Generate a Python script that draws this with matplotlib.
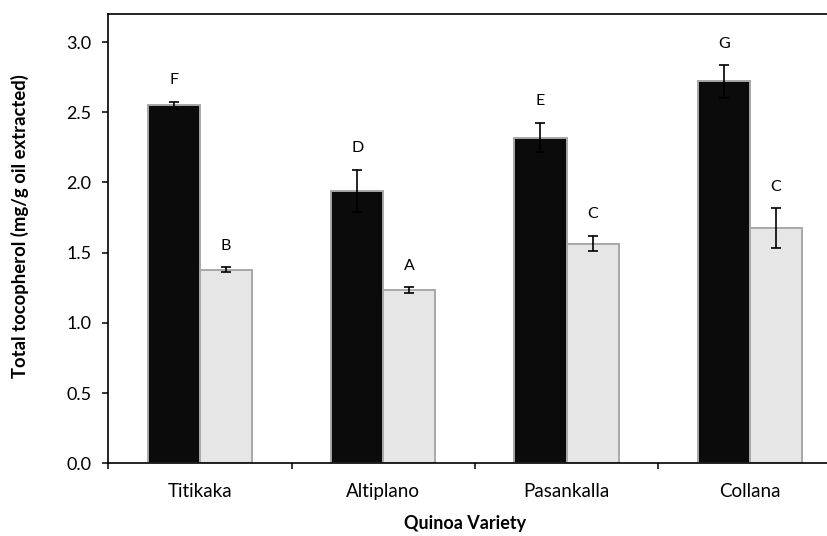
import numpy as np
import matplotlib
matplotlib.use("Agg")
import matplotlib.pyplot as plt
from matplotlib.ticker import FixedLocator, NullFormatter

plt.rcParams["font.family"] = ["Lato", "DejaVu Sans"]

# ------------------------------------------------------------------ #
# Data                                  #
# ------------------------------------------------------------------ #
varieties = ["Titikaka", "Altiplano", "Pasankalla", "Collana"]

dark_vals = [2.55, 1.94, 2.32, 2.72]
dark_err = [0.025, 0.15, 0.105, 0.115]
dark_letters = ["F", "D", "E", "G"]

light_vals = [1.38, 1.235, 1.565, 1.675]
light_err = [0.015, 0.02, 0.055, 0.14]
light_letters = ["B", "A", "C", "C"]

yticks = [0.0, 0.5, 1.0, 1.5, 2.0, 2.5, 3.0]

DARK = "#0b0b0b"
LIGHT = "#e6e6e6"
EDGE = "#a8a8a8"

fig = plt.figure(figsize=(8.28, 5.36), dpi=100)
# the plot area runs past the right edge of the picture, as in the reference
ax = fig.add_axes([108.3 / 828, 72.7 / 536, 733.2 / 828, 449.3 / 536])

x = np.arange(len(varieties))
w = 0.285

ax.bar(x - w / 2, dark_vals, width=w, color=DARK, edgecolor=EDGE,
       linewidth=1.4, zorder=2)
ax.bar(x + w / 2, light_vals, width=w, color=LIGHT, edgecolor=EDGE,
       linewidth=1.4, zorder=2)

err_kw = dict(fmt="none", ecolor="black", elinewidth=1.2, capsize=3.4,
              capthick=1.2, zorder=3)
ax.errorbar(x - w / 2, dark_vals, yerr=dark_err, **err_kw)
ax.errorbar(x + w / 2, light_vals, yerr=light_err, **err_kw)

# significance letters above each error bar
for xs, vals, errs, letters in [(x - w / 2, dark_vals, dark_err, dark_letters),
                                (x + w / 2, light_vals, light_err, light_letters)]:
    for xi, v, e, lab in zip(xs, vals, errs, letters):
        ax.annotate(lab, (xi, v + e), xytext=(0, 15.5), textcoords="offset points",
                    ha="center", va="center", fontsize=11.5, color="black")

ax.set_xlim(-0.5, 3.5)
ax.set_ylim(0, 3.2)

ax.set_yticks(yticks)
ax.set_yticklabels([f"{t:.1f}" for t in yticks], fontsize=13)
ax.tick_params(axis="y", direction="out", length=4, width=1.1, pad=8)

ax.set_xticks(x)
ax.set_xticklabels(varieties, fontsize=13.5)
ax.xaxis.set_minor_locator(FixedLocator(np.arange(-0.5, 4.0, 1.0)))
ax.xaxis.set_minor_formatter(NullFormatter())
ax.tick_params(axis="x", which="major", length=0, pad=14)
ax.tick_params(axis="x", which="minor", direction="out", length=4, width=1.1)

for side in ["left", "bottom", "top", "right"]:
    ax.spines[side].set_linewidth(1.2)

fig.text(20 / 828, (536 - 226) / 536, "Total tocopherol (mg/g oil extracted)",
         rotation=90, ha="center", va="center", fontsize=13.3, fontweight="bold")
fig.text(465 / 828, (536 - 524) / 536, "Quinoa Variety",
         ha="center", va="center", fontsize=13, fontweight="bold")

fig.savefig("out.png", dpi=100)
